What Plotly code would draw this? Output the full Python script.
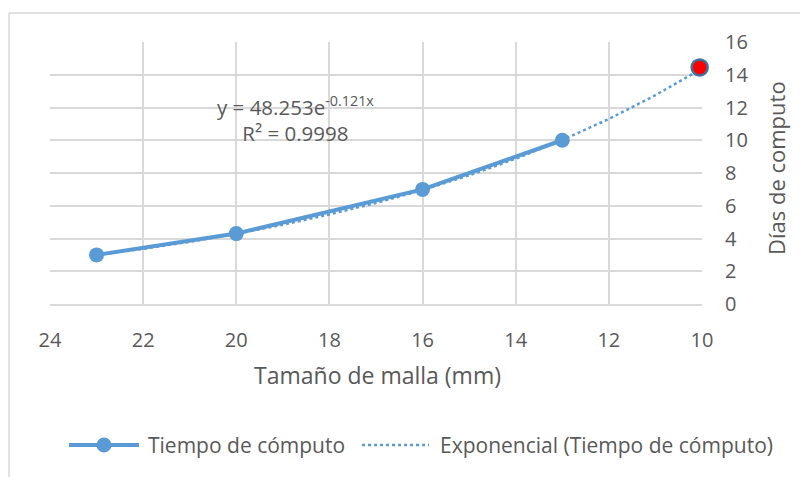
import plotly.graph_objects as go

# Data
mesh_mm = [23, 20, 16, 13]
days = [3.0, 4.3, 7.0, 10.0]
highlight_x = [10.05]
highlight_y = [14.45]
trend_x = [23, 22, 21, 20, 19, 18, 17, 16, 15, 14, 13, 12, 11, 10]
trend_y = [2.99, 3.37, 3.80, 4.29, 4.84, 5.47, 6.17, 6.96, 7.86, 8.87, 10.01, 11.30, 12.75, 14.39]
x_ticks = [24, 22, 20, 18, 16, 14, 12, 10]
y_ticks = [0, 2, 4, 6, 8, 10, 12, 14, 16]

BLUE = "#5B9BD5"
GRID = "#D9D9D9"
TXT = "#595959"
FONT = "Open Sans"

OFF = 8  # page body margin
W, H = 808 - OFF, 477 - OFF
# target pixel positions in the final screenshot
L, R, T, B = 50, 702, 42, 304

def px(x):
    return (x - L) / (R - L)

def py(y):
    return (B - y) / (B - T)

fig = go.Figure()
fig.add_trace(go.Scatter(x=trend_x, y=trend_y, mode="lines",
                         line=dict(color=BLUE, width=2.5, dash="dot"),
                         name="Exponencial (Tiempo de cómputo)", showlegend=False))
fig.add_trace(go.Scatter(x=mesh_mm, y=days, mode="lines+markers",
                         line=dict(color=BLUE, width=4),
                         marker=dict(color=BLUE, size=15),
                         name="Tiempo de cómputo", showlegend=False))
fig.add_trace(go.Scatter(x=highlight_x, y=highlight_y, mode="markers",
                         marker=dict(color="#FF0000", size=16, line=dict(color="#41719C", width=2.5)),
                         showlegend=False, cliponaxis=False))

shapes = []
shapes.append(dict(type="line", xref="paper", yref="paper", x0=px(9), x1=px(830), y0=py(13), y1=py(13),
                   line=dict(color=GRID, width=1.5)))
shapes.append(dict(type="line", xref="paper", yref="paper", x0=px(9), x1=px(9), y0=py(13), y1=py(500),
                   line=dict(color=GRID, width=1.5)))
ly = 445
shapes.append(dict(type="line", xref="paper", yref="paper", x0=px(69), x1=px(139), y0=py(ly), y1=py(ly),
                   line=dict(color=BLUE, width=4)))
shapes.append(dict(type="circle", xref="paper", yref="paper", x0=px(104 - 7.5), x1=px(104 + 7.5),
                   y0=py(ly + 7.5), y1=py(ly - 7.5), fillcolor=BLUE, line=dict(color=BLUE, width=0)))
shapes.append(dict(type="line", xref="paper", yref="paper", x0=px(362), x1=px(429), y0=py(ly), y1=py(ly),
                   line=dict(color=BLUE, width=2.5, dash="dot")))

annotations = [
    dict(xref="paper", yref="paper", x=px(146), y=py(ly), xanchor="left", yanchor="middle",
         text="Tiempo de cómputo", showarrow=False, font=dict(family=FONT, size=21, color=TXT)),
    dict(xref="paper", yref="paper", x=px(438), y=py(ly), xanchor="left", yanchor="middle",
         text="Exponencial (Tiempo de cómputo)", showarrow=False, font=dict(family=FONT, size=21, color=TXT)),
    dict(xref="paper", yref="paper", x=px(295), y=py(119), xanchor="center", yanchor="middle",
         text="y = 48.253e<sup>-0.121x</sup><br>R² = 0.9998", showarrow=False, align="center",
         font=dict(family=FONT, size=20.5, color=TXT)),
    dict(xref="paper", yref="paper", x=px(377), y=py(375), xanchor="center", yanchor="middle",
         text="Tamaño de malla (mm)", showarrow=False, font=dict(family=FONT, size=23, color=TXT)),
    dict(xref="paper", yref="paper", x=px(776), y=py(168), xanchor="center", yanchor="middle",
         text="Días de computo", textangle=-90, showarrow=False, font=dict(family=FONT, size=22, color=TXT)),
]

fig.update_layout(
    width=W, height=H,
    margin=dict(l=L - OFF, r=W - (R - OFF), t=T - OFF, b=H - (B - OFF)),
    paper_bgcolor="white", plot_bgcolor="white",
    font=dict(family=FONT, color=TXT, size=20),
    showlegend=False,
    shapes=shapes,
    annotations=annotations,
    xaxis=dict(range=[24, 10], tickvals=x_ticks, ticktext=[str(v) for v in x_ticks],
               showgrid=True, gridcolor=GRID, gridwidth=1.5, zeroline=False,
               showline=True, linecolor=GRID, linewidth=1.5,
               ticks="", ticklabelstandoff=17, tickfont=dict(family=FONT, size=20, color=TXT)),
    yaxis=dict(range=[0, 16], tickvals=y_ticks, side="right",
               showgrid=True, gridcolor=GRID, gridwidth=1.5, zeroline=False,
               showline=False, ticks="", ticklabelstandoff=22,
               tickfont=dict(family=FONT, size=20, color=TXT)),
)

fig.write_html("out.html")
